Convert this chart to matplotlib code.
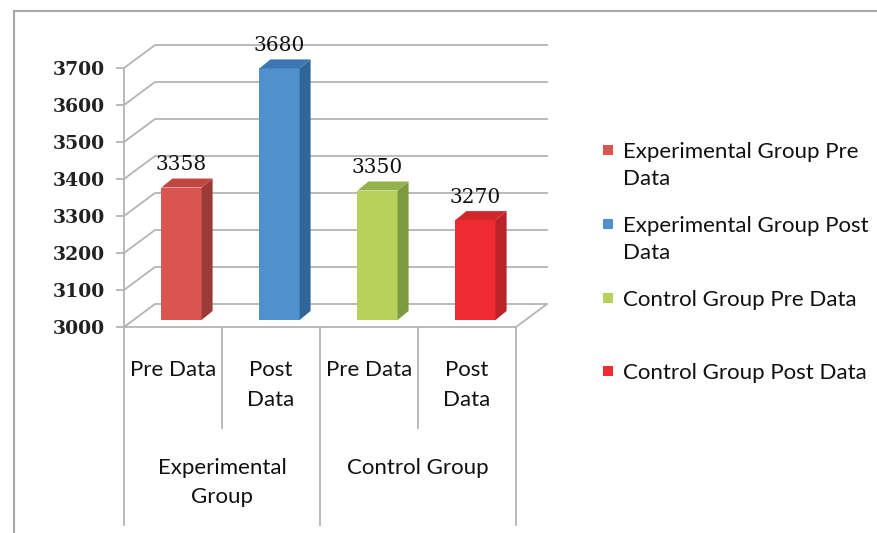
import matplotlib
matplotlib.use("Agg")
import matplotlib.pyplot as plt
from matplotlib.patches import Polygon, Rectangle
from matplotlib.lines import Line2D

# data
values = [3358, 3680, 3350, 3270]
bar_labels = ["Pre Data", "Post\nData", "Pre Data", "Post\nData"]
group_labels = ["Experimental\nGroup", "Control Group"]
legend_labels = ["Experimental Group Pre\nData", "Experimental Group Post\nData",
                 "Control Group Pre Data", "Control Group Post Data"]
y_ticks = [3000, 3100, 3200, 3300, 3400, 3500, 3600, 3700]

front_colors = ["#d85550", "#4f91cc", "#b6d25a", "#ee2b30"]
side_colors = ["#9b3a36", "#30659a", "#7b9b3e", "#b8242a"]
top_colors = ["#c2463f", "#3b78b3", "#93b24a", "#d2262b"]

W, H = 878, 533
fig = plt.figure(figsize=(W / 100, H / 100), dpi=100)

# front plane of the 3d box, in pixels
X0, X1, Y0, Y1 = 124, 516, 327, 68
ax = fig.add_axes([X0 / W, (H - Y0) / H, (X1 - X0) / W, (Y0 - Y1) / H])
ax.set_xlim(0, 4)
ax.set_ylim(3000, 3700)

ppx = (X1 - X0) / 4.0
ppy = (Y0 - Y1) / 700.0

def dx(px):
    return px / ppx

def dy(px):
    return px / ppy

grid_c = "#b4b4b4"
wdx, wdy = dx(31), dy(23)

# walls: side wall diagonals and back wall lines
for t in y_ticks:
    ax.plot([0, wdx, 4 + wdx], [t, t + wdy, t + wdy], color=grid_c, lw=1.3,
            clip_on=False, zorder=1)
# floor
ax.plot([0, 4, 4 + wdx], [3000, 3000, 3000 + wdy], color=grid_c, lw=1.3,
        clip_on=False, zorder=1)

# bars, sitting a bit inside the depth
sx, sy = dx(8.5), dy(7)
bdx, bdy = dx(11), dy(9)
bw = 0.41
xs = [i + 0.5 + sx for i in range(len(values))]
ax.bar(xs, [v - 3000 for v in values], bottom=3000 + sy, width=bw,
       color=front_colors, clip_on=False, zorder=3)
for i, v in enumerate(values):
    xl, xr = xs[i] - bw / 2, xs[i] + bw / 2
    b, t = 3000 + sy, v + sy
    ax.add_patch(Polygon([(xr, b), (xr + bdx, b + bdy), (xr + bdx, t + bdy), (xr, t)],
                         closed=True, facecolor=side_colors[i], edgecolor="none",
                         clip_on=False, zorder=3))
    ax.add_patch(Polygon([(xl, t), (xl + bdx, t + bdy), (xr + bdx, t + bdy), (xr, t)],
                         closed=True, facecolor=top_colors[i], edgecolor="none",
                         clip_on=False, zorder=3))
    ax.annotate(str(v), (xs[i], t + bdy), xytext=(0, 3),
                textcoords="offset points", ha="center", va="bottom",
                family="DejaVu Serif", fontsize=14.5, color="#111111", zorder=5,
                annotation_clip=False)

# axis styling
for s in ["top", "right", "bottom"]:
    ax.spines[s].set_visible(False)
ax.spines["left"].set_color(grid_c)
ax.spines["left"].set_linewidth(1.3)
ax.set_yticks(y_ticks)
ax.set_yticklabels([str(t) for t in y_ticks], family="DejaVu Serif",
                   fontweight="bold", fontsize=13.5, color="#222222")
ax.tick_params(axis="y", length=6, width=1.3, color=grid_c, pad=8)
ax.set_xticks([])
ax.patch.set_visible(False)

# category dividers under the floor
xt = ax.get_xaxis_transform()
inner = -(428 - Y0) / (Y0 - Y1)
outer = -(525 - Y0) / (Y0 - Y1)
for x in [0, 2, 4]:
    ax.plot([x, x], [0, outer], color=grid_c, lw=1.3, transform=xt, clip_on=False)
for x in [1, 3]:
    ax.plot([x, x], [0, inner], color=grid_c, lw=1.3, transform=xt, clip_on=False)

txt_font = dict(family="Lato", fontsize=16, color="#111111")
for i, lab in enumerate(bar_labels):
    ax.text(i + 0.5, -(360 - Y0) / (Y0 - Y1), lab, transform=xt, ha="center",
            va="top", linespacing=1.6, **txt_font)
for i, lab in enumerate(group_labels):
    ax.text(2 * i + 1, -(458 - Y0) / (Y0 - Y1), lab, transform=xt, ha="center",
            va="top", linespacing=1.55, **txt_font)

# legend
leg_y = [150, 224, 298, 371]
for i, lab in enumerate(legend_labels):
    y = leg_y[i]
    fig.patches.append(Rectangle((603 / W, (H - y - 5) / H), 10 / W, 10 / H,
                                 transform=fig.transFigure, facecolor=front_colors[i],
                                 edgecolor="none"))
    fig.text(623 / W, (H - y + 8) / H, lab, ha="left", va="top",
             linespacing=1.45, **txt_font)

# chart border
border_c = "#a8a8a8"
fig.add_artist(Line2D([14 / W, 14 / W], [0, (H - 11) / H], color=border_c, lw=1.5))
fig.add_artist(Line2D([14 / W, 1], [(H - 11) / H, (H - 11) / H], color=border_c, lw=1.5))

fig.savefig("out.png", dpi=100)
